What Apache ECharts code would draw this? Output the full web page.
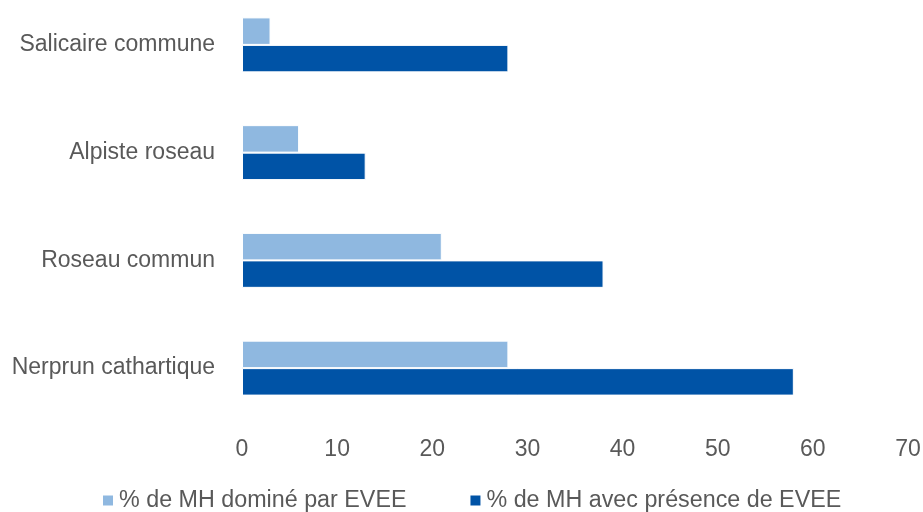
<!DOCTYPE html>
<html>
<head>
<meta charset="utf-8">
<script src="https://cdn.jsdelivr.net/npm/echarts@6/dist/echarts.min.js"></script>
<style>
  html, body { margin: 0; padding: 0; background: #fff; }
  #chart { width: 923px; height: 512px; }
</style>
</head>
<body>
<div id="chart"></div>
<script>
// categories from bottom to top
const categories = ["Nerprun cathartique", "Roseau commun", "Alpiste roseau", "Salicaire commune"];
const domineValues = [28, 21, 6, 3];
const presenceValues = [58, 38, 13, 28];
const seriesNames = ["% de MH dominé par EVEE", "% de MH avec présence de EVEE"];

const textColor = "#595959";
const fontFamily = "'Liberation Sans', Arial, sans-serif";

const chart = echarts.init(document.getElementById("chart"));

chart.setOption({
  animation: false,
  textStyle: { fontFamily: fontFamily },
  grid: { left: 242, right: 15, top: -9, height: 431, outerBoundsMode: "none", containLabel: false },
  legend: {
    data: seriesNames,
    bottom: -5,
    left: 96,
    itemWidth: 12,
    itemHeight: 12,
    itemGap: 62,
    icon: "rect",
    textStyle: { color: textColor, fontSize: 23.3, fontFamily: fontFamily }
  },
  xAxis: {
    type: "value",
    min: 0,
    max: 70,
    interval: 10,
    axisLine: { show: false },
    axisTick: { show: false },
    splitLine: { show: false },
    axisLabel: { color: textColor, fontSize: 23, margin: 16 }
  },
  yAxis: {
    type: "category",
    data: categories,
    axisLine: { show: false },
    axisTick: { show: false },
    axisLabel: { color: textColor, fontSize: 23, margin: 27 }
  },
  series: [
    {
      name: seriesNames[0],
      type: "bar",
      data: domineValues,
      barGap: "0%",
      barCategoryGap: "49%",
      itemStyle: { color: "#8FB8E0", borderColor: "#ffffff", borderWidth: 1 }
    },
    {
      name: seriesNames[1],
      type: "bar",
      data: presenceValues,
      itemStyle: { color: "#0053A6", borderColor: "#ffffff", borderWidth: 1 }
    }
  ]
});
</script>
</body>
</html>
